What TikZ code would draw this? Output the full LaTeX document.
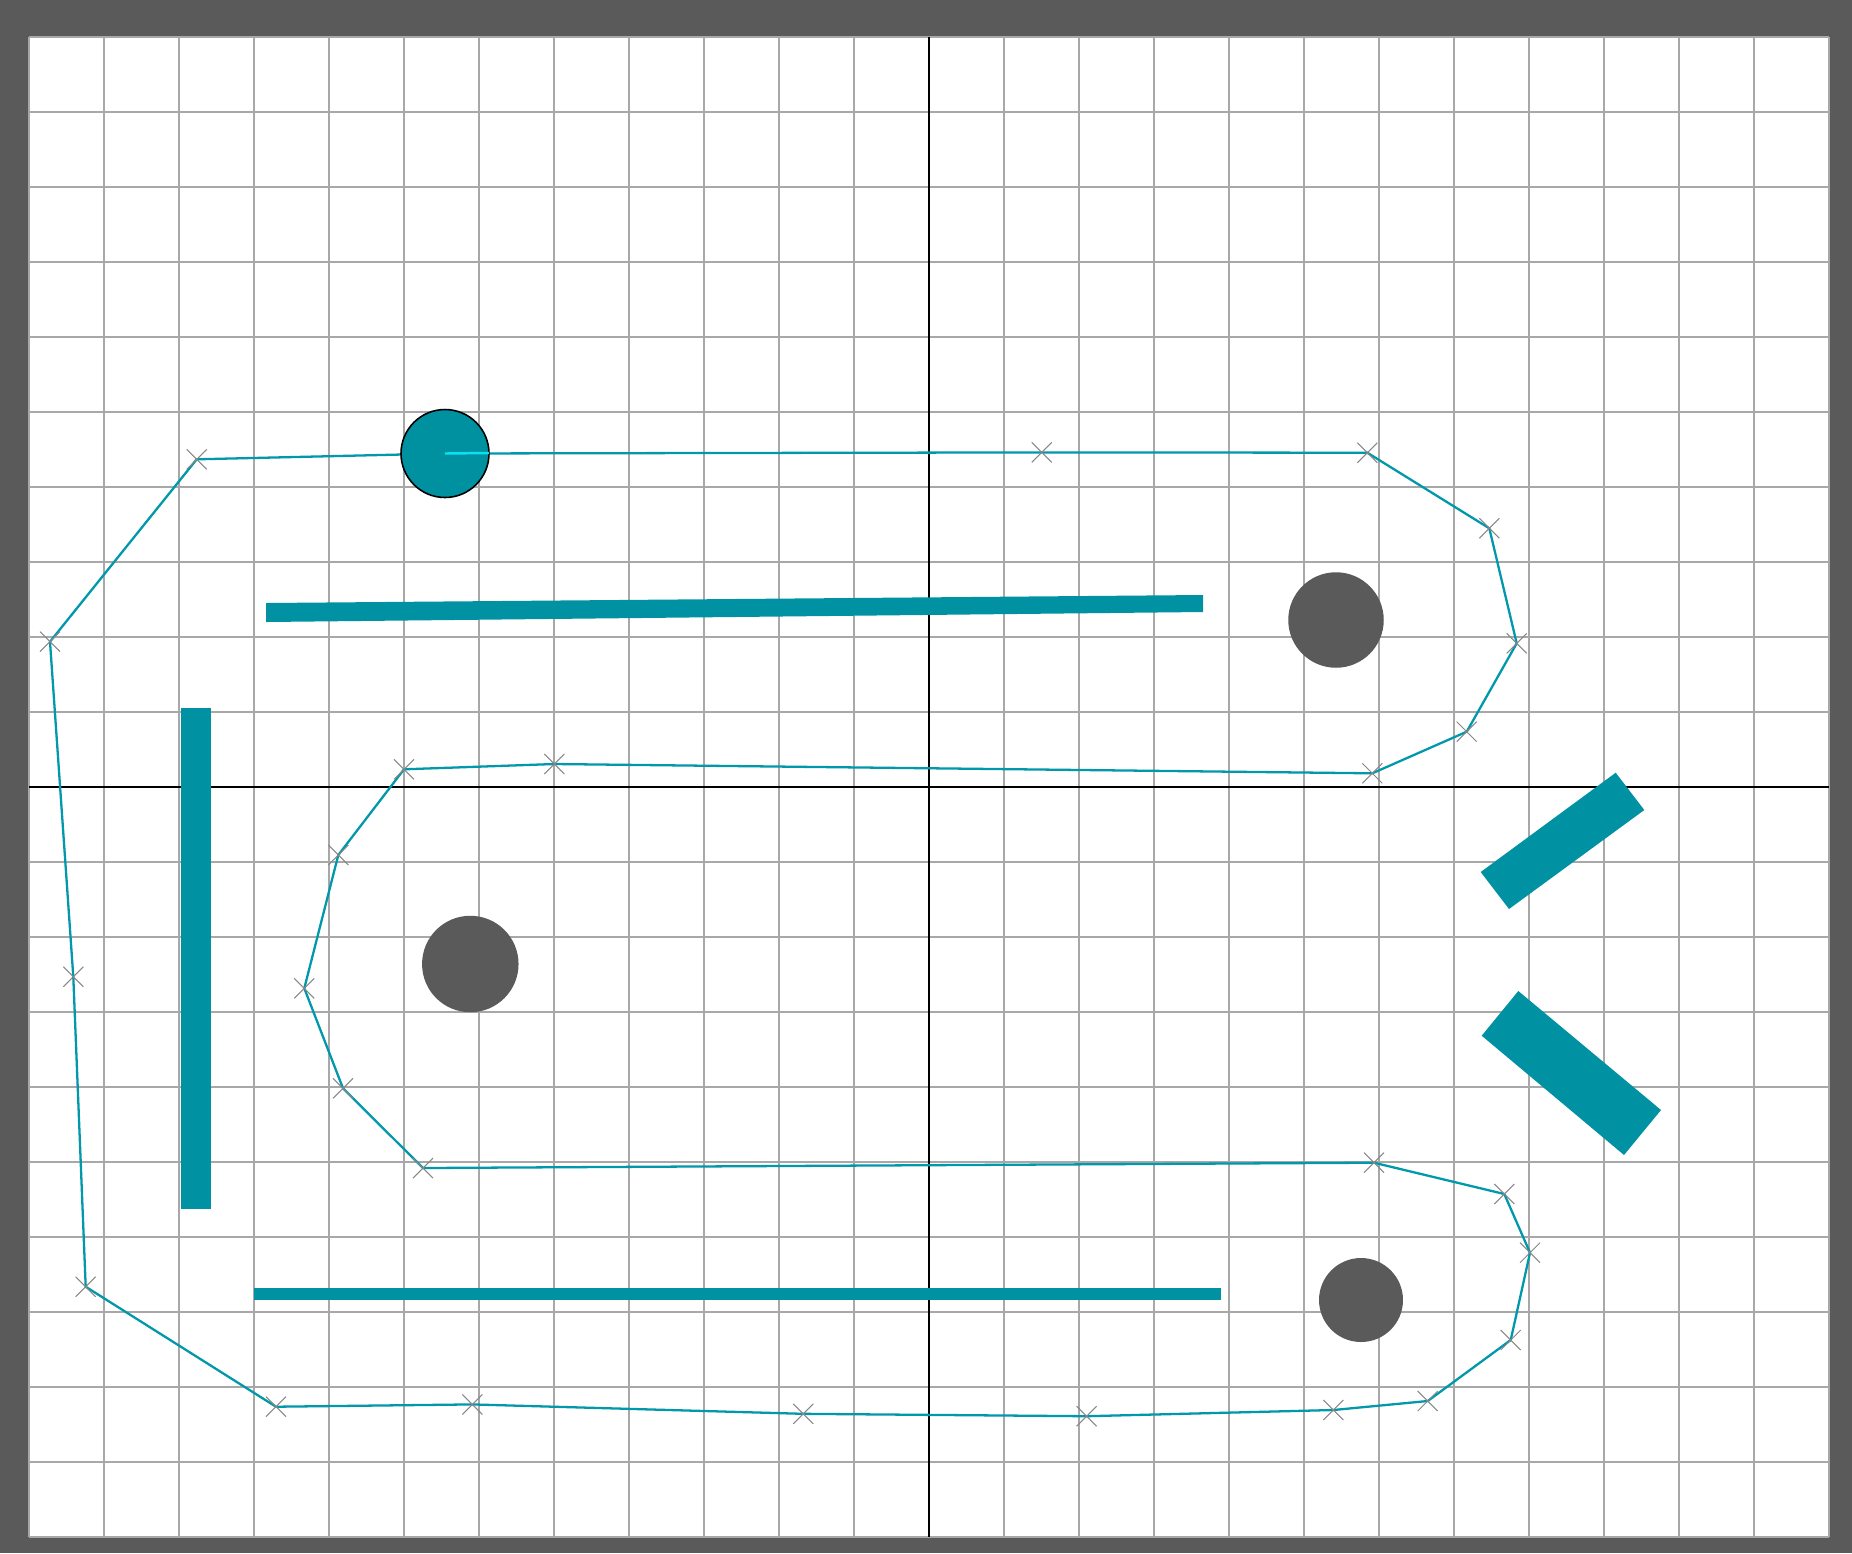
\documentclass[tikz,border=0pt]{standalone}
\definecolor{framec}{RGB}{90,90,90}
\definecolor{gridc}{RGB}{168,168,168}
\definecolor{wallc}{RGB}{0,146,162}
\definecolor{pathc}{RGB}{0,152,170}
\definecolor{robotc}{RGB}{0,145,160}
\definecolor{headc}{RGB}{10,225,245}
\definecolor{obstc}{RGB}{90,90,90}
\definecolor{markc}{RGB}{135,135,135}
\begin{document}
\begin{tikzpicture}[x=0.02cm,y=-0.02cm,
  gridline/.style={draw=gridc,line width=0.75pt},
  axisline/.style={draw=black,line width=0.75pt},
  wall/.style={fill=wallc},
  obstacle/.style={circle,fill=obstc,inner sep=0pt},
  robotnode/.style={circle,fill=robotc,draw=black,line width=0.9pt,inner sep=0pt,minimum size=1.76cm},
  route/.style={draw=pathc,line width=1.3pt,line join=round},
  heading/.style={draw=headc,line width=1.4pt},
  xmark/.style={draw=markc,line width=0.6pt}]
\useasboundingbox (0,0) rectangle (1852,1553);
\fill[framec] (0,0) rectangle (1852,1553);
\fill[white] (29,37) rectangle (1829,1537);
% grid
\foreach \i in {0,...,24} \draw[gridline] ({29+75*\i},37) -- ({29+75*\i},1537);
\foreach \j in {0,...,20} \draw[gridline] (29,{37+75*\j}) -- (1829,{37+75*\j});
\draw[axisline] (929,37) -- (929,1537);
\draw[axisline] (29,787) -- (1829,787);
% walls
\fill[wall] (266,603) -- (1203,595) -- (1203,612) -- (266,622) -- cycle;
\fill[wall] (181,707.5) rectangle (211,1209);
\fill[wall] (254,1288) rectangle (1221,1300);
\fill[wall] (1615.7,772.7) -- (1644.3,810) -- (1509,909) -- (1480.7,872) -- cycle;
\fill[wall] (1518.3,991) -- (1661,1110) -- (1624,1155) -- (1481.7,1035.7) -- cycle;
% obstacles
\node[obstacle,minimum size=1.91cm] (obs1) at (1336,620) {};
\node[obstacle,minimum size=1.93cm] (obs2) at (470.3,964) {};
\node[obstacle,minimum size=1.68cm] (obs3) at (1361,1300) {};
% waypoints
\coordinate (w1) at (1041.7,452.4);
\coordinate (w2) at (1367.3,452.7);
\coordinate (w3) at (1489.3,528.3);
\coordinate (w4) at (1516.7,643.3);
\coordinate (w5) at (1466.7,731.7);
\coordinate (w6) at (1372.3,773.3);
\coordinate (w7) at (554.3,764);
\coordinate (w8) at (404,769.3);
\coordinate (w9) at (338.3,855);
\coordinate (w10) at (304.3,988.3);
\coordinate (w11) at (343,1088.3);
\coordinate (w12) at (423,1168);
\coordinate (w13) at (1374,1162.7);
\coordinate (w14) at (1504.3,1194);
\coordinate (w15) at (1530,1252.7);
\coordinate (w16) at (1510.7,1340);
\coordinate (w17) at (1427.7,1401);
\coordinate (w18) at (1333.3,1410);
\coordinate (w19) at (1086.6,1416.2);
\coordinate (w20) at (803.2,1413.8);
\coordinate (w21) at (472.4,1404.4);
\coordinate (w22) at (276,1406.7);
\coordinate (w23) at (85.7,1286.7);
\coordinate (w24) at (73.3,976.7);
\coordinate (w25) at (50,641.7);
\coordinate (w26) at (196.7,459.3);
\coordinate (rc) at (445,453.5);
% route
\draw[route] (rc) -- (w1) -- (w2) -- (w3) -- (w4) -- (w5) -- (w6) -- (w7) -- (w8)
  -- (w9) -- (w10) -- (w11) -- (w12) -- (w13) -- (w14) -- (w15) -- (w16) -- (w17)
  -- (w18) -- (w19) -- (w20) -- (w21) -- (w22) -- (w23) -- (w24) -- (w25) -- (w26) -- (rc);
% waypoint markers
\foreach \w in {w1,w2,w3,w4,w5,w6,w7,w8,w9,w10,w11,w12,w13,w14,w15,w16,w17,w18,w19,w20,w21,w22,w23,w24,w25,w26}
  \draw[xmark] (\w) +(-10,-10) -- +(10,10) (\w) +(-10,10) -- +(10,-10);
% robot
\node[robotnode] (robot) at (rc) {};
\coordinate (nose) at (489,453);
\draw[heading] (robot.center) -- (nose);
\end{tikzpicture}
\end{document}
